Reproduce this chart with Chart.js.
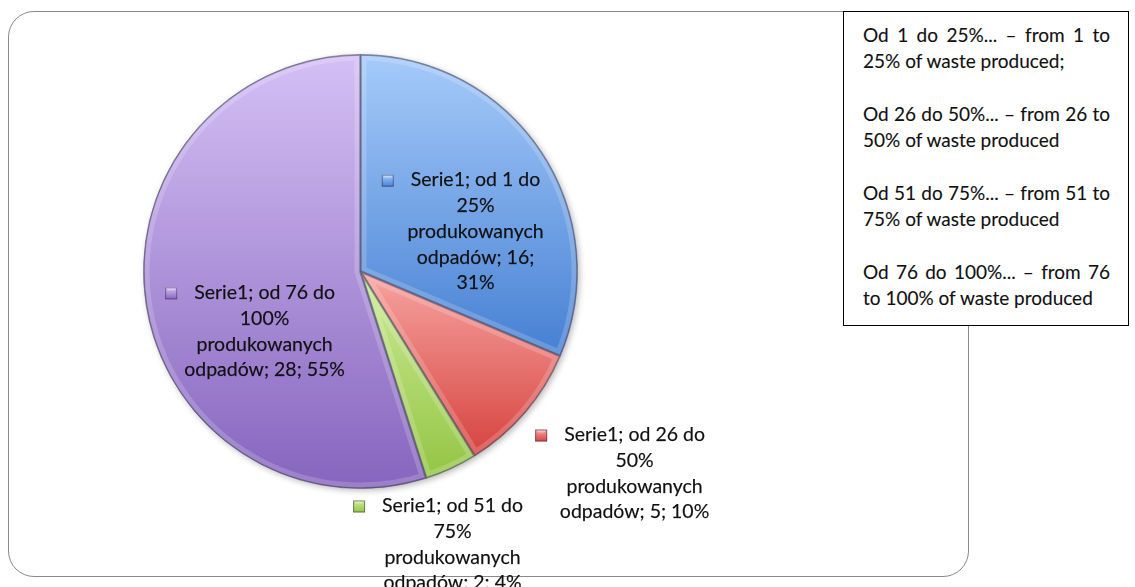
<!DOCTYPE html>
<html>
<head>
<meta charset="utf-8">
<script src="https://cdn.jsdelivr.net/npm/chart.js@4.4.1/dist/chart.umd.min.js"></script>
<style>
  html, body { margin: 0; padding: 0; background: #fff; }
  body { width: 1135px; height: 587px; position: relative; overflow: hidden; font-family: Lato, "Open Sans", sans-serif; }
  #ramka { position: absolute; left: 8px; top: 11px; width: 961px; height: 566px; box-sizing: border-box;
           border: 1.5px solid #8a8a8a; border-radius: 26px; }
  #wykres { position: absolute; left: 0; top: 0; }
  #opis { position: absolute; left: 843px; top: 11px; width: 286px; height: 315px; box-sizing: border-box;
          border: 1px solid #000; background: #fff; padding: 10px 18px 0 19px; color: #111;
          font-size: 19px; line-height: 26.3px; white-space: nowrap; -webkit-text-stroke: 0.1px #000; }
  #opis .akapit { margin-bottom: 26.3px; }
  #opis .pelna { text-align: justify; text-align-last: justify; width: 247px; }
</style>
</head>
<body>
<div id="ramka"></div>
<canvas id="wykres" width="1135" height="587"></canvas>
<div id="opis">
  <div class="akapit"><div class="pelna">Od 1 do 25%... – from 1 to</div><div>25% of waste produced;</div></div>
  <div class="akapit"><div class="pelna">Od 26 do 50%... – from 26 to</div><div>50% of waste produced</div></div>
  <div class="akapit"><div class="pelna">Od 51 do 75%... – from 51 to</div><div>75% of waste produced</div></div>
  <div class="akapit"><div class="pelna">Od 76 do 100%... – from 76</div><div>to 100% of waste produced</div></div>
</div>
<script>
  const seria = "Serie1";
  const kategorie = [
    "od 1 do 25% produkowanych odpadów",
    "od 26 do 50% produkowanych odpadów",
    "od 51 do 75% produkowanych odpadów",
    "od 76 do 100% produkowanych odpadów"
  ];
  const wartosci = [16, 5, 2, 28];

  // kolory: [gora, dol]
  const kolory = [
    ["#a6cbfa", "#4680d3"],
    ["#f7a4a1", "#d6433f"],
    ["#cdeb98", "#93c543"],
    ["#d5c0f5", "#8665be"]
  ];
  // polozenie etykiet wzgledem srodka, w promieniach
  const przesuniecia = [[0.53, -0.184], [1.263, 0.931], [0.424, 1.258], [-0.442, 0.276]];
  const szerokosci = [145, 170, 170, 170];

  const ROZMIAR = 19.5;
  const LH = 25.7;
  const FONT = `${ROZMIAR}px Lato, "Open Sans", sans-serif`;

  const suma = wartosci.reduce((a, b) => a + b, 0);

  function gradient(context) {
    const chart = context.chart;
    const { chartArea, ctx } = chart;
    const i = context.dataIndex;
    if (!chartArea) return kolory[i][1];
    const cx = (chartArea.left + chartArea.right) / 2;
    const cy = (chartArea.top + chartArea.bottom) / 2;
    const r = Math.min(chartArea.width, chartArea.height) / 2;
    const przed = wartosci.slice(0, i).reduce((a, b) => a + b, 0);
    const a0 = przed / suma * Math.PI * 2 - Math.PI / 2;
    const a1 = (przed + wartosci[i]) / suma * Math.PI * 2 - Math.PI / 2;
    let minY = cy, maxY = cy;
    for (let t = 0; t <= 40; t++) {
      const y = cy + r * Math.sin(a0 + (a1 - a0) * t / 40);
      minY = Math.min(minY, y);
      maxY = Math.max(maxY, y);
    }
    const g = ctx.createLinearGradient(0, minY, 0, maxY);
    g.addColorStop(0, kolory[i][0]);
    g.addColorStop(1, kolory[i][1]);
    return g;
  }

  function zawijaj(ctx, tekst, max) {
    const slowa = tekst.split(" ");
    const linie = [];
    let biezaca = "";
    slowa.forEach(s => {
      const proba = biezaca ? biezaca + " " + s : s;
      if (biezaca && ctx.measureText(proba).width > max) {
        linie.push(biezaca);
        biezaca = s;
      } else {
        biezaca = proba;
      }
    });
    if (biezaca) linie.push(biezaca);
    return linie;
  }

  const faza = {
    id: "faza",
    beforeDatasetsDraw(chart) {
      const ctx = chart.ctx;
      ctx.save();
      ctx.shadowColor = "rgba(0,0,0,0.28)";
      ctx.shadowBlur = 6;
      ctx.shadowOffsetX = 2;
      ctx.shadowOffsetY = 2;
      ctx.fillStyle = "#fff";
      const l = chart.getDatasetMeta(0).data[0];
      ctx.beginPath();
      ctx.arc(l.x, l.y, l.outerRadius, 0, Math.PI * 2);
      ctx.fill();
      ctx.restore();
    },
    afterDatasetsDraw(chart) {
      const ctx = chart.ctx;
      chart.getDatasetMeta(0).data.forEach(luk => {
        ctx.save();
        ctx.beginPath();
        ctx.moveTo(luk.x, luk.y);
        ctx.arc(luk.x, luk.y, luk.outerRadius, luk.startAngle, luk.endAngle);
        ctx.closePath();
        ctx.clip();
        ctx.lineJoin = "round";
        ctx.lineWidth = 12;
        ctx.strokeStyle = "rgba(255,255,255,0.18)";
        ctx.stroke();
        ctx.lineWidth = 2.5;
        ctx.strokeStyle = "rgba(40,40,70,0.4)";
        ctx.stroke();
        ctx.restore();
      });
    }
  };

  const etykiety = {
    id: "etykiety",
    afterDatasetsDraw(chart) {
      const ctx = chart.ctx;
      const meta = chart.getDatasetMeta(0);
      ctx.save();
      ctx.font = FONT;
      ctx.textAlign = "center";
      ctx.textBaseline = "middle";
      meta.data.forEach((luk, i) => {
        const r = luk.outerRadius;
        const cx = luk.x + przesuniecia[i][0] * r;
        const cy = luk.y + przesuniecia[i][1] * r;
        const proc = Math.round(wartosci[i] / suma * 100);
        const tekst = `${seria}; ${kategorie[i]}; ${wartosci[i]}; ${proc}%`;
        const linie = zawijaj(ctx, tekst, szerokosci[i]);
        const y0 = cy - (linie.length - 1) * LH / 2;
        ctx.fillStyle = "#111";
        ctx.strokeStyle = "rgba(0,0,0,0.6)";
        ctx.lineWidth = 0.25;
        linie.forEach((l, k) => {
          ctx.fillText(l, cx, y0 + k * LH);
          ctx.strokeText(l, cx, y0 + k * LH);
        });

        // znacznik legendy
        const w1 = ctx.measureText(linie[0]).width;
        const mx = cx - w1 / 2 - 17 - 12;
        const my = y0 - 5.5;
        const g = ctx.createLinearGradient(0, my, 0, my + 12);
        g.addColorStop(0, kolory[i][0]);
        g.addColorStop(1, kolory[i][1]);
        ctx.fillStyle = g;
        ctx.fillRect(mx, my, 12, 12);
        ctx.fillStyle = "rgba(255,255,255,0.35)";
        ctx.beginPath();
        ctx.moveTo(mx, my); ctx.lineTo(mx + 12, my); ctx.lineTo(mx + 9, my + 3); ctx.lineTo(mx + 3, my + 3);
        ctx.closePath(); ctx.fill();
        ctx.strokeStyle = "rgba(40,40,70,0.5)";
        ctx.lineWidth = 1;
        ctx.strokeRect(mx + 0.5, my + 0.5, 11, 11);
      });
      ctx.restore();
    }
  };

  new Chart(document.getElementById("wykres").getContext("2d"), {
    type: "pie",
    data: {
      labels: kategorie,
      datasets: [{
        label: seria,
        data: wartosci,
        backgroundColor: gradient,
        borderColor: "rgba(50,50,80,0.45)",
        borderWidth: 1
      }]
    },
    options: {
      responsive: false,
      animation: false,
      events: [],
      layout: { padding: { left: 143, right: 557, top: 54, bottom: 98 } },
      plugins: {
        legend: { display: false },
        tooltip: { enabled: false }
      }
    },
    plugins: [faza, etykiety]
  });
</script>
</body>
</html>
